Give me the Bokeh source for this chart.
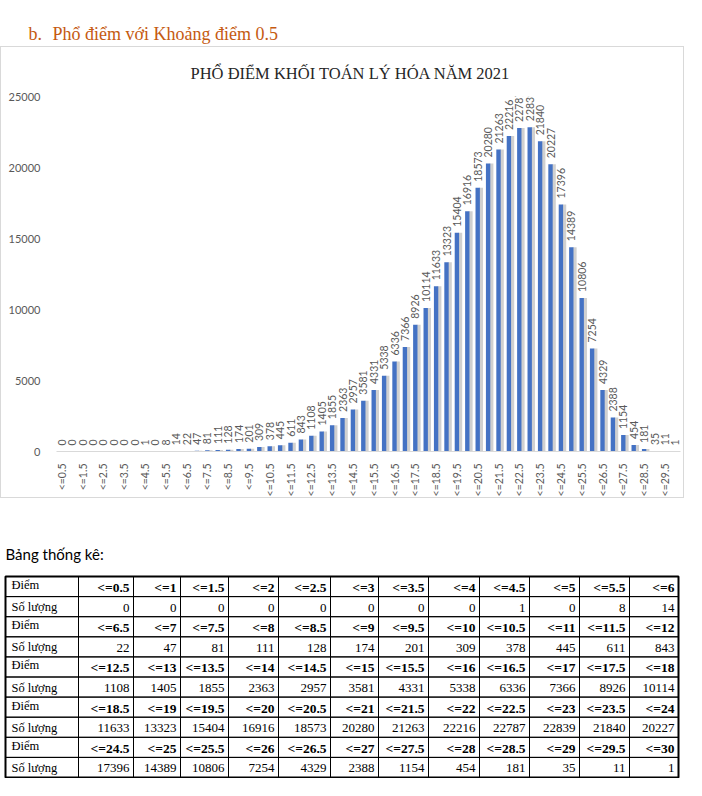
import math
from bokeh.plotting import figure
from bokeh.models import Range1d, FixedTicker, ColumnDataSource
from bokeh.transform import dodge
from bokeh.core.properties import value
from bokeh.embed import file_html
from bokeh.resources import INLINE

# ---------------- data ----------------
categories = ["<=0.5", "<=1", "<=1.5", "<=2", "<=2.5", "<=3", "<=3.5", "<=4", "<=4.5", "<=5", "<=5.5", "<=6",
              "<=6.5", "<=7", "<=7.5", "<=8", "<=8.5", "<=9", "<=9.5", "<=10", "<=10.5", "<=11", "<=11.5", "<=12",
              "<=12.5", "<=13", "<=13.5", "<=14", "<=14.5", "<=15", "<=15.5", "<=16", "<=16.5", "<=17", "<=17.5", "<=18",
              "<=18.5", "<=19", "<=19.5", "<=20", "<=20.5", "<=21", "<=21.5", "<=22", "<=22.5", "<=23", "<=23.5", "<=24",
              "<=24.5", "<=25", "<=25.5", "<=26", "<=26.5", "<=27", "<=27.5", "<=28", "<=28.5", "<=29", "<=29.5", "<=30"]
counts = [0, 0, 0, 0, 0, 0, 0, 0, 1, 0, 8, 14,
          22, 47, 81, 111, 128, 174, 201, 309, 378, 445, 611, 843,
          1108, 1405, 1855, 2363, 2957, 3581, 4331, 5338, 6336, 7366, 8926, 10114,
          11633, 13323, 15404, 16916, 18573, 20280, 21263, 22216, 22787, 22839, 21840, 20227,
          17396, 14389, 10806, 7254, 4329, 2388, 1154, 454, 181, 35, 11, 1]
y_ticks = [0, 5000, 10000, 15000, 20000, 25000]

heading_number = "b."
heading_text = "Phổ điểm với Khoảng điểm 0.5"
chart_title = "PHỔ ĐIỂM KHỐI TOÁN LÝ HÓA NĂM 2021"
table_caption = "Bảng thống kê:"
row_label_score = "Điểm"
row_label_count = "Số lượng"
per_row = 12

W = 686
SANS = "Lato"
SERIF = "Liberation Serif"
GRAY = "#595959"

# ---------------- heading ----------------
H_HEAD = 46
h = figure(width=W, height=H_HEAD, x_range=Range1d(0, W), y_range=Range1d(H_HEAD, 0),
           x_axis_location=None, y_axis_location=None, min_border=0,
           output_backend="svg", toolbar_location=None)
h.grid.visible = False
h.outline_line_color = None
h.text(x=[28], y=[33], text=[heading_number], text_font=value(SERIF), text_font_size="18px",
       text_color="#C55A11", text_baseline="alphabetic")
h.text(x=[52], y=[33], text=[heading_text], text_font=value(SERIF), text_font_size="18px",
       text_color="#C55A11", text_baseline="alphabetic")

# ---------------- chart ----------------
xs = list(range(len(categories)))
src = ColumnDataSource(dict(x=xs, count=counts, label=[str(c) for c in counts]))

FRAME_L = 56
p = figure(width=W - 2, height=452, x_range=Range1d(-0.5, len(categories) - 0.5), y_range=Range1d(0, 25000),
           min_border_left=FRAME_L - 1, min_border_right=5, min_border_top=49, min_border_bottom=41,
           output_backend="svg", toolbar_location=None,
           styles={"border": "1px solid #d9d9d9"})
p.title.text = chart_title
p.title.align = "left"
p.title.offset = 190 - FRAME_L
p.title.standoff = 28
p.title.text_font = SERIF
p.title.text_font_size = "16.5px"
p.title.text_font_style = "normal"
p.title.text_color = "#262626"

p.vbar(x=dodge("x", 0.32), top="count", width=0.38, source=src, fill_color="#b0b0b0",
       fill_alpha=0.6, line_color=None)
p.vbar(x="x", top="count", width=0.42, source=src, fill_color="#4472C4", line_color=None)
p.text(x="x", y="count", text="label", source=src, angle=math.pi / 2, text_align="left",
       text_baseline="middle", y_offset=-6, text_font=value(SANS), text_font_size="10.5px",
       text_color=GRAY)

p.xgrid.visible = False
p.ygrid.visible = False
p.outline_line_color = None

p.yaxis.ticker = FixedTicker(ticks=y_ticks)
p.yaxis.axis_line_color = None
p.yaxis.major_tick_line_color = None
p.yaxis.minor_tick_line_color = None
p.yaxis.major_label_text_font = SANS
p.yaxis.major_label_text_font_size = "11px"
p.yaxis.major_label_text_color = GRAY
p.yaxis.major_label_standoff = 10

tick_idx = xs[::2]
p.xaxis.ticker = FixedTicker(ticks=tick_idx)
p.xaxis.major_label_overrides = {i: categories[i] for i in tick_idx}
p.xaxis.axis_line_color = "#d9d9d9"
p.xaxis.major_tick_line_color = None
p.xaxis.minor_tick_line_color = None
p.xaxis.major_label_orientation = math.pi / 2
p.xaxis.major_label_text_font = SANS
p.xaxis.major_label_text_font_size = "10.5px"
p.xaxis.major_label_text_color = GRAY
p.xaxis.major_label_standoff = 6

# ---------------- table ----------------
T_TOP = 500
T_H = 280
t = figure(width=W, height=T_H, x_range=Range1d(0, W), y_range=Range1d(T_TOP + T_H, T_TOP),
           x_axis_location=None, y_axis_location=None, min_border=0,
           output_backend="svg", toolbar_location=None)
t.grid.visible = False
t.outline_line_color = None

t.text(x=[5], y=[555], text=[table_caption], text_font=value(SANS), text_font_size="15px",
       text_color="#000000", text_baseline="middle")

edges = [5, 78, 133, 180, 228, 278, 330, 378, 428, 479, 529, 579, 629, 678]
row_top = 578
row_h = 20.1
n_rows = 2 * math.ceil(len(categories) / per_row)

ql, qr, qt, qb = [], [], [], []
for r in range(n_rows):
    for c in range(len(edges) - 1):
        ql.append(edges[c]); qr.append(edges[c + 1])
        qt.append(row_top + r * row_h); qb.append(row_top + (r + 1) * row_h)
t.quad(left=ql, right=qr, top=qt, bottom=qb, fill_color=None, line_color="#000000", line_width=1)
t.quad(left=[edges[0]], right=[edges[-1]], top=[row_top], bottom=[row_top + n_rows * row_h],
       fill_color=None, line_color="#000000", line_width=2)

lab_x, lab_y, lab_t = [], [], []
hd_x, hd_y, hd_t = [], [], []
nv_x, nv_y, nv_t = [], [], []
for r in range(n_rows):
    g = r // 2
    cy = row_top + r * row_h + row_h / 2
    lab_x.append(edges[0] + 6)
    if r % 2 == 0:
        lab_y.append(cy - 1.5); lab_t.append(row_label_score)
    else:
        lab_y.append(cy + 0.5); lab_t.append(row_label_count)
    for c in range(per_row):
        idx = g * per_row + c
        xr = edges[c + 2] - 4
        if r % 2 == 0:
            hd_x.append(xr); hd_y.append(cy + 1); hd_t.append(categories[idx])
        else:
            nv_x.append(xr); nv_y.append(cy + 1); nv_t.append(str(counts[idx]))

t.text(x=lab_x, y=lab_y, text=lab_t, text_font=value(SERIF), text_font_size="12.5px",
       text_color="#000000", text_baseline="middle", text_align="left")
t.text(x=hd_x, y=hd_y, text=hd_t, text_font=value(SERIF), text_font_size="13.5px",
       text_font_style="bold", text_color="#000000", text_baseline="middle", text_align="right")
t.text(x=nv_x, y=nv_y, text=nv_t, text_font=value(SERIF), text_font_size="13px",
       text_color="#000000", text_baseline="middle", text_align="right")

open("out.html", "w").write(file_html([h, p, t], INLINE))
